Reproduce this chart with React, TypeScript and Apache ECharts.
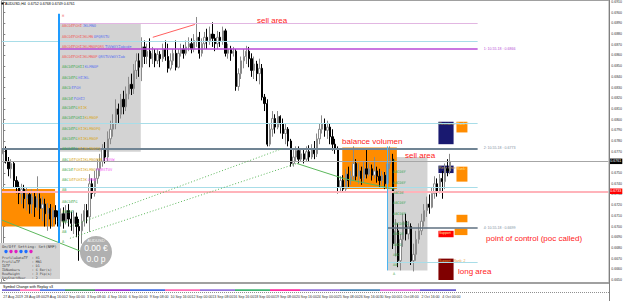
import React, { useEffect, useRef } from 'react';
import * as echarts from 'echarts';

// ---------- data ----------
const symbolTitle = 'AUDUSD,H4';
const tradingDays = ['27 Aug', '28 Aug', '29 Aug', '30 Aug', '2 Sep', '3 Sep', '4 Sep', '5 Sep', '6 Sep', '9 Sep', '10 Sep', '11 Sep', '12 Sep', '13 Sep', '16 Sep', '17 Sep', '18 Sep', '19 Sep', '20 Sep', '23 Sep', '24 Sep', '25 Sep', '26 Sep', '27 Sep', '30 Sep', '1 Oct', '2 Oct', '3 Oct', '4 Oct', '7 Oct', '8 Oct', '9 Oct', '10 Oct', '11 Oct', '14 Oct', '15 Oct', '16 Oct', '17 Oct', '18 Oct'];
const barHours = ['00:00', '04:00', '08:00', '12:00', '16:00', '20:00'];

const opens = [0.6768,0.6773,0.6761,0.6754,0.6759,0.6743,0.6737,0.6731,0.6735,0.6726,
0.6730,0.6721,0.6728,0.6718,0.6726,0.6717,0.6721,0.6712,0.6717,0.6707,
0.6715,0.6709,0.6705,0.6712,0.6705,0.6715,0.6707,0.6703,0.6709,0.6700,
0.6696,0.6705,0.6715,0.6709,0.6740,0.6731,0.6745,0.6754,0.6761,0.6773,
0.6765,0.6782,0.6791,0.6796,0.6810,0.6805,0.6819,0.6812,0.6824,0.6833,
0.6829,0.6846,0.6855,0.6849,0.6868,0.6859,0.6864,0.6857,0.6862,0.6855,
0.6861,0.6857,0.6866,0.6859,0.6848,0.6855,0.6862,0.6849,0.6862,0.6866,
0.6862,0.6868,0.6871,0.6866,0.6874,0.6877,0.6862,0.6871,0.6877,0.6874,
0.6880,0.6876,0.6871,0.6877,0.6874,0.6883,0.6862,0.6866,0.6862,0.6864,
0.6831,0.6843,0.6855,0.6859,0.6864,0.6857,0.6846,0.6852,0.6843,0.6848,
0.6821,0.6815,0.6777,0.6791,0.6801,0.6793,0.6803,0.6796,0.6787,0.6791,
0.6780,0.6759,0.6765,0.6771,0.6763,0.6768,0.6763,0.6770,0.6765,0.6773,
0.6768,0.6782,0.6791,0.6796,0.6790,0.6793,0.6784,0.6777,0.6773,0.6737,
0.6743,0.6735,0.6749,0.6743,0.6747,0.6759,0.6747,0.6752,0.6745,0.6754,
0.6749,0.6754,0.6748,0.6752,0.6747,0.6743,0.6748,0.6740,0.6759,0.6763,
0.6684,0.6696,0.6668,0.6688,0.6705,0.6693,0.6700,0.6668,0.6674,0.6688,
0.6696,0.6705,0.6715,0.6721,0.6718,0.6731,0.6740,0.6733,0.6745,0.6742,
0.6754,0.6752];

const closes = [0.6773,0.6761,0.6754,0.6759,0.6743,0.6737,0.6731,0.6735,0.6726,0.6730,
0.6721,0.6728,0.6718,0.6726,0.6717,0.6721,0.6712,0.6717,0.6707,0.6715,
0.6709,0.6705,0.6712,0.6705,0.6715,0.6707,0.6703,0.6709,0.6700,0.6696,
0.6705,0.6715,0.6709,0.6740,0.6731,0.6745,0.6754,0.6761,0.6773,0.6765,
0.6782,0.6791,0.6796,0.6810,0.6805,0.6819,0.6812,0.6824,0.6833,0.6829,
0.6846,0.6855,0.6849,0.6868,0.6859,0.6864,0.6857,0.6862,0.6855,0.6861,
0.6857,0.6866,0.6859,0.6848,0.6855,0.6862,0.6849,0.6862,0.6866,0.6862,
0.6868,0.6871,0.6866,0.6874,0.6877,0.6862,0.6871,0.6877,0.6874,0.6880,
0.6876,0.6871,0.6877,0.6874,0.6883,0.6862,0.6866,0.6862,0.6864,0.6831,
0.6843,0.6855,0.6859,0.6864,0.6857,0.6846,0.6852,0.6843,0.6848,0.6821,
0.6815,0.6777,0.6791,0.6801,0.6793,0.6803,0.6796,0.6787,0.6791,0.6780,
0.6759,0.6765,0.6771,0.6763,0.6768,0.6763,0.6770,0.6765,0.6773,0.6768,
0.6782,0.6791,0.6796,0.6790,0.6793,0.6784,0.6777,0.6773,0.6737,0.6743,
0.6735,0.6749,0.6743,0.6747,0.6759,0.6747,0.6752,0.6745,0.6754,0.6749,
0.6754,0.6748,0.6752,0.6747,0.6743,0.6748,0.6740,0.6759,0.6763,0.6684,
0.6696,0.6668,0.6688,0.6705,0.6693,0.6700,0.6668,0.6674,0.6688,0.6696,
0.6705,0.6715,0.6721,0.6718,0.6731,0.6740,0.6733,0.6745,0.6742,0.6754,
0.6752,0.6761];

const lows = [0.6763,0.6759,0.6747,0.6745,0.6737,0.6731,0.6721,0.6721,0.6717,0.6715,
0.6712,0.6712,0.6709,0.6715,0.6707,0.6705,0.6700,0.6696,0.6698,0.6700,
0.6702,0.6700,0.6700,0.6698,0.6702,0.6700,0.6696,0.6693,0.6690,0.6668,
0.6684,0.6700,0.6703,0.6695,0.6726,0.6728,0.6740,0.6747,0.6756,0.6759,
0.6761,0.6777,0.6784,0.6791,0.6796,0.6801,0.6805,0.6808,0.6819,0.6823,
0.6824,0.6838,0.6840,0.6836,0.6852,0.6852,0.6849,0.6852,0.6849,0.6852,
0.6849,0.6854,0.6855,0.6844,0.6846,0.6851,0.6846,0.6848,0.6859,0.6857,
0.6860,0.6864,0.6862,0.6863,0.6868,0.6857,0.6859,0.6866,0.6866,0.6870,
0.6868,0.6864,0.6866,0.6868,0.6870,0.6859,0.6857,0.6855,0.6859,0.6827,
0.6827,0.6838,0.6848,0.6852,0.6849,0.6840,0.6838,0.6836,0.6833,0.6818,
0.6808,0.6775,0.6775,0.6784,0.6787,0.6791,0.6787,0.6782,0.6777,0.6775,
0.6756,0.6756,0.6761,0.6759,0.6761,0.6759,0.6761,0.6761,0.6763,0.6763,
0.6765,0.6777,0.6787,0.6784,0.6782,0.6777,0.6771,0.6768,0.6731,0.6733,
0.6732,0.6733,0.6737,0.6739,0.6743,0.6743,0.6740,0.6739,0.6741,0.6745,
0.6747,0.6743,0.6745,0.6741,0.6737,0.6739,0.6735,0.6737,0.6754,0.6679,
0.6672,0.6662,0.6659,0.6681,0.6687,0.6688,0.6664,0.6658,0.6668,0.6684,
0.6692,0.6700,0.6709,0.6712,0.6717,0.6726,0.6728,0.6731,0.6726,0.6735,
0.6747,0.6749];

const highs = [0.6777,0.6775,0.6765,0.6763,0.6761,0.6747,0.6742,0.6740,0.6739,0.6737,
0.6733,0.6735,0.6733,0.6747,0.6731,0.6728,0.6726,0.6722,0.6721,0.6718,
0.6720,0.6715,0.6717,0.6718,0.6720,0.6721,0.6714,0.6715,0.6713,0.6707,
0.6712,0.6721,0.6721,0.6749,0.6745,0.6752,0.6763,0.6768,0.6777,0.6779,
0.6789,0.6799,0.6805,0.6819,0.6815,0.6824,0.6827,0.6831,0.6840,0.6843,
0.6852,0.6862,0.6862,0.6877,0.6874,0.6871,0.6876,0.6868,0.6866,0.6866,
0.6864,0.6871,0.6874,0.6871,0.6862,0.6866,0.6874,0.6866,0.6871,0.6870,
0.6874,0.6877,0.6876,0.6880,0.6896,0.6882,0.6876,0.6882,0.6885,0.6887,
0.6891,0.6880,0.6883,0.6882,0.6887,0.6885,0.6871,0.6869,0.6868,0.6866,
0.6848,0.6859,0.6866,0.6869,0.6868,0.6862,0.6859,0.6855,0.6857,0.6852,
0.6824,0.6819,0.6796,0.6808,0.6805,0.6808,0.6804,0.6801,0.6796,0.6793,
0.6782,0.6773,0.6775,0.6775,0.6773,0.6773,0.6775,0.6776,0.6777,0.6780,
0.6787,0.6796,0.6804,0.6801,0.6799,0.6796,0.6791,0.6782,0.6775,0.6747,
0.6748,0.6754,0.6756,0.6752,0.6775,0.6763,0.6759,0.6756,0.6761,0.6773,
0.6759,0.6758,0.6765,0.6756,0.6754,0.6752,0.6751,0.6773,0.6775,0.6768,
0.6707,0.6703,0.6693,0.6712,0.6712,0.6705,0.6703,0.6684,0.6696,0.6703,
0.6712,0.6721,0.6728,0.6730,0.6737,0.6747,0.6745,0.6749,0.6752,0.6759,
0.6763,0.6768];

// price levels drawn as horizontal lines
const levelLabels = ['1: 10.55.18 : 0.6866', '2: 10.55.18 : 0.6773', '4: 10.55.18 : 0.6699'];
const pinkLevel = 0.6733;

// market-profile rows (text, colour key)
const profileRows: [number, [string, string][]][] = [
  [26, [['ABCDEFGHI', 'r'], ['JKLMNO', 'b']]],
  [37, [['ABCDEFGHIJKLMN', 'r'], ['OPQRSTU', 'b']]],
  [47, [['ABCDEFGHIJKLMNOPQRS', 'r'], ['TUVWXYZabcde', 'b']]],
  [57, [['ABCDEFGHIJKLMNOP', 'r'], ['QRSTUVWXYZab', 'b']]],
  [67, [['ABCDEFGHIJ', 'g'], ['KLMNOP', 'b']]],
  [78, [['ABCDEFG', 'g'], ['HIJKL', 'b']]],
  [88, [['ABCD', 'g'], ['EFGH', 'b']]],
  [99, [['ABCDE', 'g'], ['FGHIJ', 'b']]],
  [108, [['ABCDEFG', 'g'], ['HIJK', 'o']]],
  [118, [['ABCDEFGHIJ', 'g'], ['KLMNOP', 'o']]],
  [129, [['ABCDEFG', 'g'], ['HIJKLMNOPQ', 'o']]],
  [139, [['ABCDEFG', 'g'], ['HIJKLMNOP', 'o']]],
  [149, [['ABCDEFG', 'g'], ['HIJKLMNOPQ', 'o']]],
  [160, [['ABC', 'g'], ['DEFGHIJKLMNOPQR', 'o'], ['STUVW', 'm']]],
  [170, [['ABCDE', 'g'], ['FGHIJKLMNO', 'o'], ['PQRSTUV', 'm']]],
  [180, [['ABC', 'g'], ['DEFGHIJK', 'o'], ['LMNO', 'm']]],
  [190, [['AB', 'g']]],
  [202, [['ABCDEFG', 'g']]],
  [212, [['ABCDE', 'g']]],
  [222, [['ABC', 'g']]],
  [232, [['AB', 'g']]],
  [242, [['A', 'g']]],
];
const rightProfileRows: [number, string][] = [
  [161, 'A'], [172, 'ABCDEF'], [183, 'ABCDEF'], [193, 'ABCDE'], [203, 'ABCDEF'], [214, 'ABCDEF'],
  [224, 'ABCDEFG'], [234, 'ABCDE'], [245, 'ABCD'], [255, 'ABC'], [265, 'AB'], [274, 'A'],
];
const panelLines = ['ProfileDataTF  : H1', 'ProfileTF      : MN1', 'IDTF           : D1', 'IDNumbers      : 6 Bar(s)', 'RowHeight      : 3 Pip(s)', 'DayStartHour   : 2'];
const panelDots = ['#1e6fff', '#e020c0', '#e020c0', '#1e6fff', '#1e6fff', '#e020c0'];
const stripSegments: [number, number, string][] = [
  [2, 20, '#6a5acd'], [20, 40, '#ff69b4'], [40, 65, '#4169e1'], [65, 95, '#2e8b57'], [95, 130, '#9932cc'],
  [130, 165, '#4169e1'], [165, 200, '#ff69b4'], [200, 235, '#9370db'], [235, 270, '#3cb371'], [270, 300, '#ff1493'],
  [300, 340, '#9370db'], [340, 380, '#4682b4'], [380, 420, '#da70d6'], [420, 456, '#6a5acd'],
];

const SANS = 'Liberation Sans, Arial, sans-serif';
const MONO = 'DejaVu Sans Mono, Liberation Mono, monospace';
const colorKey: Record<string, string> = { r: '#f05a5a', b: '#5a70f0', g: '#40a850', o: '#d8a820', m: '#f050f0' };

export default function App() {
  const ref = useRef<HTMLDivElement>(null);
  useEffect(() => {
    if (!ref.current) return;
    const chart = echarts.init(ref.current, null, { renderer: 'svg' });
    const n = opens.length;
    const totalBars = 232;
    const categories: string[] = [];
    for (let i = 0; i < totalBars; i++) {
      const d = tradingDays[Math.floor(i / 6)];
      categories.push(i === 0 ? `${d} 2019` : `${d} ${barHours[i % 6]}`);
    }
    const candles = opens.map((o, i) => [o, closes[i], lows[i], highs[i]]);
    const last = n - 1;
    const lastClose = closes[last];
    const END = 181.5;
    const XMIN = -0.5;
    const XMAX = totalBars - 0.5;

    const seg = (x1: number, p1: number, x2: number, p2: number, color: string, width = 1, type: any = 'solid', label?: any) => [
      { coord: [x1, p1], lineStyle: { color, width, type }, label: label ? { show: true, position: 'end', distance: 6, fontSize: 3.6, fontFamily: SANS, ...label } : { show: false } },
      { coord: [x2, p2] },
    ];
    const box = (x1: number, p1: number, x2: number, p2: number, color: string, label?: any) => [
      { coord: [x1, p1], itemStyle: { color }, label: label ? { show: true, position: 'insideTopLeft', distance: 0.5, fontSize: 3.4, fontFamily: SANS, ...label } : { show: false } },
      { coord: [x2, p2] },
    ];
    const priceTag = (bg: string) => ({ formatter: '', color: '#fff', backgroundColor: bg, padding: [1, 1, 0.5, 1], fontSize: 3.6, distance: 1 });

    const boxes = [
      box(XMIN, 0.6735, 19.8, 0.6700, '#ff8c00'),
      box(21.7, 0.6890, 52.6, 0.6770, '#d3d3d3'),
      box(147.0, 0.6765, 162.3, 0.6659, '#d3d3d3'),
      box(129.7, 0.6774, 150.6, 0.6735, '#ff8c00'),
      box(166.5, 0.6798, 172.3, 0.6777, '#191970', { formatter: 'Resistance', color: '#d8b040' }),
      box(173.4, 0.6798, 177.6, 0.6788, '#ff8c00', { formatter: 'Rank: 2', color: '#ffe090' }),
      box(166.5, 0.6757, 172.3, 0.6750, '#191970', { formatter: 'Resistance', color: '#d8b040' }),
      box(173.4, 0.6756, 177.6, 0.6742, '#ff8c00', { formatter: 'Rank: 1', color: '#ffe090' }),
      box(173.4, 0.6711, 177.6, 0.6704, '#ff8c00'),
      box(166.5, 0.6696, 172.3, 0.6690, '#ff0000', { formatter: 'Support', color: '#ffe0a0' }),
      box(172.7, 0.6698, 177.6, 0.6692, '#ff8c00'),
      box(166.5, 0.6670, 172.3, 0.6650, '#800000', { formatter: 'Support   Rank: 2', color: '#e8a040' }),
    ];

    const lines = [
      seg(21.7, 0.6890, END, 0.6890, '#e2b6e2'),
      seg(XMIN, 0.6873, END, 0.6873, '#a8dde8'),
      seg(21.7, 0.6866, END, 0.6866, '#b84ad6', 1.5, 'solid', { formatter: levelLabels[0], color: '#b84ad6' }),
      seg(XMIN, 0.6797, END, 0.6797, '#a8dde8'),
      seg(XMIN, 0.6773, END, 0.6773, '#708494', 2, 'solid', { formatter: levelLabels[1], color: '#8090a0' }),
      seg(XMIN, 0.6737, END, 0.6737, '#a8dde8'),
      seg(147.0, 0.6699, END, 0.6699, '#5f7080', 1.5, 'solid', { formatter: levelLabels[2], color: '#8090a0' }),
      seg(147.0, 0.6667, END, 0.6667, '#a8dde8'),
      seg(XMIN, lastClose, XMAX, lastClose, '#a6a6a6', 1, 'solid', { ...priceTag('#000'), formatter: lastClose.toFixed(4) }),
      seg(XMIN, pinkLevel, XMAX, pinkLevel, '#ffb3ba', 2, 'solid', { ...priceTag('#ff0000'), formatter: pinkLevel.toFixed(4) }),
      seg(57.2, 0.6877, 73.3, 0.6889, '#ff6060'),
      seg(XMIN, 0.6706, 30.5, 0.6676, '#5cb85c'),
      seg(25.5, 0.6700, 106.9, 0.6773, '#5cb85c', 1, [1, 2]),
      seg(25.5, 0.6689, 112.3, 0.6759, '#5cb85c', 1, [1, 2]),
      seg(112.3, 0.6759, 130.1, 0.6745, '#5cb85c'),
      seg(130.1, 0.6745, 149.7, 0.6735, '#5cb85c'),
      seg(21.1, 0.6899, 21.1, 0.6674, '#1e9bff', 2),
      seg(147.1, 0.6775, 147.1, 0.6659, '#4cb4f0', 1),
    ];

    const g: any[] = [];
    const txt = (x: number, y: number, text: string, fill: string, size: number, o: any = {}) =>
      g.push({ type: 'text', x, y, z: 100, silent: true, style: { text, fill, fontSize: size, fontFamily: o.family || SANS, textAlign: o.align || 'left', textVerticalAlign: o.valign || 'middle' } });

    // frame & sub-window
    g.push({ type: 'rect', z: 50, silent: true, shape: { x: 1.5, y: 0.5, width: 607.5, height: 282 }, style: { fill: 'none', stroke: '#a0a0a0', lineWidth: 1 } });
    g.push({ type: 'line', z: 50, silent: true, shape: { x1: 0, y1: 283, x2: 610, y2: 283 }, style: { stroke: '#a0a0a0', lineWidth: 2 } });
    g.push({ type: 'line', z: 50, silent: true, shape: { x1: 609.5, y1: 0, x2: 609.5, y2: 301 }, style: { stroke: '#808080', lineWidth: 1 } });
    txt(3, 286.5, 'Symbol Change with Replay v3', '#000', 3.6);
    stripSegments.forEach(([a, b, c]) => g.push({ type: 'rect', z: 50, silent: true, shape: { x: a, y: 289.3, width: b - a, height: 1.6 }, style: { fill: c } }));
    g.push({ type: 'line', z: 50, silent: true, shape: { x1: 2, y1: 292.5, x2: 609, y2: 292.5 }, style: { stroke: '#909090', lineWidth: 1, lineDash: [1, 1] } });

    // title
    g.push({ type: 'rect', z: 100, silent: true, shape: { x: 1.5, y: 2.5, width: 2, height: 2 }, style: { fill: '#000' } });
    txt(5, 3.8, `${symbolTitle}  ${opens[last].toFixed(4)} ${highs[last].toFixed(4)} ${lows[last].toFixed(4)} ${lastClose.toFixed(4)}`, '#000', 3.6);

    // profile rows
    txt(62, 16, 'H', '#f05a5a', 3.6, { family: MONO });
    const fs = 3.7;
    const cw = fs * 0.602;
    profileRows.forEach(([y, segs]) => {
      let x = 62;
      segs.forEach(([s, k]) => { txt(x, y, s, colorKey[k], fs, { family: MONO }); x += s.length * cw + 0.6; });
    });
    rightProfileRows.forEach(([y, s]) => txt(393, y, s, '#40a850', 3.6, { family: MONO }));

    // info panel
    g.push({ type: 'rect', z: 100, silent: true, shape: { x: 0, y: 243, width: 60, height: 36 }, style: { fill: '#d4d4d4' } });
    txt(2, 246.5, 'On/Off Setting: Set(NMP)', '#404040', 3.8, { family: MONO });
    panelDots.forEach((c, i) => g.push({ type: 'circle', z: 101, silent: true, shape: { cx: 6 + i * 5, cy: 251.5, r: 1.7 }, style: { fill: c } }));
    panelLines.forEach((s, i) => txt(2, 258 + i * 3.9, s, '#404040', 3.3, { family: MONO }));

    // equity bubble
    g.push({ type: 'circle', z: 100, silent: true, shape: { cx: 96, cy: 252, r: 16 }, style: { fill: '#b0b0b0' } });
    txt(96, 240.5, 'AUDUSD', '#f4f4f4', 4.2, { align: 'center' });
    txt(96, 247.5, '0.00 €', '#ffffff', 8.5, { align: 'center' });
    txt(96, 258.5, '0.0 p', '#ffffff', 8.5, { align: 'center' });

    // annotations
    txt(257, 20.5, 'sell area', '#ff1a1a', 8);
    txt(342, 141.5, 'balance volumen', '#ff1a1a', 8);
    txt(405, 155, 'sell area', '#ff1a1a', 8);
    txt(486, 238.5, 'point of control (poc called)', '#ff1a1a', 8);
    txt(458, 271, 'long area', '#ff1a1a', 8);

    const option: any = {
      animation: false,
      textStyle: { fontFamily: SANS },
      grid: { left: 2, right: 16, top: 2, bottom: 21 },
      xAxis: [
        {
          type: 'category', data: categories, boundaryGap: true,
          axisLine: { show: false }, axisTick: { show: false }, splitLine: { show: false },
          axisLabel: { interval: (idx: number) => idx % 8 === 0 && idx <= 168, fontSize: 3.5, color: '#333', margin: 15, align: 'left' },
        },
        { type: 'value', min: XMIN, max: XMAX, show: false },
      ],
      yAxis: {
        type: 'value', position: 'right', min: 0.665, max: 0.691, interval: 0.001,
        axisLine: { show: true, lineStyle: { color: '#808080' } },
        axisTick: { show: true, length: 2, lineStyle: { color: '#808080' } },
        splitLine: { show: false },
        axisLabel: { fontSize: 3.5, color: '#333', margin: 3, formatter: (v: number) => v.toFixed(4) },
      },
      series: [
        {
          type: 'candlestick', xAxisIndex: 0, yAxisIndex: 0, data: candles, barWidth: 1.8, silent: true,
          itemStyle: { color: '#ffffff', color0: '#000000', borderColor: '#8a8a8a', borderColor0: '#000000', borderWidth: 1 },
        },
        {
          type: 'line', xAxisIndex: 1, yAxisIndex: 0, data: [[0, 0.68]], symbol: 'none', silent: true,
          lineStyle: { opacity: 0, width: 0 },
          markArea: { silent: true, label: { show: false }, data: boxes },
          markLine: { silent: true, symbol: ['none', 'none'], label: { show: false }, data: lines },
        },
      ],
      graphic: g,
    };
    chart.setOption(option);
    return () => chart.dispose();
  }, []);
  return <div ref={ref} style={{ position: 'absolute', left: 0, top: 0, width: 625, height: 301, background: '#fff' }} />;
}
